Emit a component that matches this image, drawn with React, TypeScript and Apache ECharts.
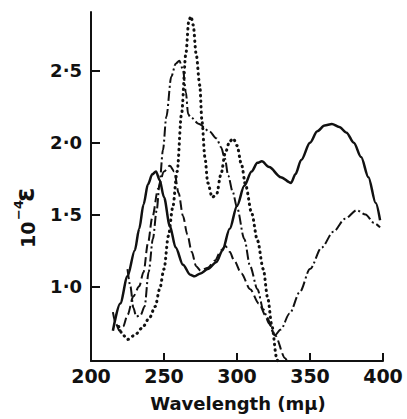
import React, { useEffect, useRef } from "react";
import * as echarts from "echarts";

// Wavelength (mμ) vs 10^-4 ε
const solidData: [number, number][] = [
  [215, 0.69], [220, 0.88], [225, 1.07], [230, 1.25], [233, 1.40], [236, 1.57], [239, 1.71], [242, 1.78], [244.5, 1.8],
  [247, 1.74], [250, 1.62], [254, 1.42], [258, 1.27], [263, 1.15], [268, 1.08], [271, 1.07], [275, 1.09],
  [280, 1.12], [286, 1.17], [290, 1.25], [295, 1.4], [300, 1.56], [305, 1.7], [310, 1.8], [314, 1.86],
  [317, 1.87], [322, 1.83], [330, 1.76], [337, 1.72], [340, 1.78], [344, 1.88], [350, 2.0], [355, 2.08],
  [360, 2.12], [365, 2.13], [370, 2.11], [375, 2.07], [380, 2.0], [385, 1.9], [390, 1.76], [395, 1.58],
  [398, 1.46],
];

const dashedData: [number, number][] = [
  [215, 0.82], [217, 0.74], [219.5, 0.69], [222, 0.72], [225, 0.8], [229, 0.93], [233, 1.0], [236, 1.1],
  [239, 1.3], [242, 1.48], [246, 1.68], [250, 1.8], [254, 1.84], [257, 1.8], [260, 1.65], [263, 1.49],
  [266, 1.36], [269, 1.24], [272, 1.14], [275, 1.11], [280, 1.13], [285, 1.18], [289, 1.25], [292, 1.28],
  [295, 1.24], [298, 1.18], [303, 1.09], [309, 0.98], [315, 0.88], [320, 0.79], [326, 0.66], [333, 0.5],
  [335, 0.46],
];

const dashDotData: [number, number][] = [
  [225, 1.12], [227, 1.0], [229, 0.85], [231, 0.79], [234, 0.8], [236.7, 0.86], [239.5, 1.1], [242.4, 1.33],
  [245, 1.53], [247, 1.72], [249.3, 1.95], [251.6, 2.18], [255, 2.46], [258, 2.55], [260.5, 2.57],
  [263, 2.51], [265, 2.35], [266.5, 2.2], [268, 2.18], [274, 2.13], [281, 2.08], [286, 2.03], [289, 1.97],
  [291.7, 1.89], [294, 1.77], [297, 1.66], [300, 1.55], [305, 1.33], [309, 1.14], [314, 0.98], [318, 0.84],
  [322, 0.74], [326, 0.66], [330, 0.7], [336, 0.81], [343, 0.96], [350, 1.12], [358, 1.27], [366, 1.38],
  [374, 1.47], [382, 1.53], [388, 1.5], [394, 1.44], [398, 1.41],
];

const dottedData: [number, number][] = [
  [219, 0.72], [222, 0.66], [225, 0.63], [230, 0.66], [235, 0.71], [240, 0.78], [244, 0.86], [247, 0.98],
  [250, 1.12], [253, 1.35], [256, 1.55], [259, 1.8], [262, 2.2], [265, 2.62], [267, 2.85], [268.5, 2.88],
  [270, 2.82], [272, 2.62], [274.5, 2.4], [276, 2.15], [278, 1.9], [280, 1.72], [283, 1.62], [286, 1.64],
  [289, 1.78], [292, 1.93], [295, 2.01], [297.5, 2.03], [300, 1.98], [303, 1.85], [306, 1.7], [310, 1.51],
  [314, 1.32], [318, 1.12], [321, 0.92], [324, 0.72], [327, 0.51], [328.5, 0.44],
];

const yTickValues = [1.0, 1.5, 2.0, 2.5];
const xTickValues = [200, 250, 300, 350, 400];
const xTitle = "Wavelength (mμ)";

const FONT = "DejaVu Sans";

export default function App() {
  const ref = useRef<HTMLDivElement>(null);
  useEffect(() => {
    if (!ref.current) return;
    const chart = echarts.init(ref.current, null, { renderer: "svg" });
    const baseSeries = {
      type: "line" as const,
      showSymbol: false,
      smooth: 0.3,
      smoothMonotone: "x" as const,
      clip: true,
      silent: true,
    };
    chart.setOption({
      animation: false,
      backgroundColor: "#ffffff",
      grid: { left: 91, right: 24, top: 12, bottom: 58, containLabel: false },
      xAxis: {
        type: "value",
        min: xTickValues[0],
        max: xTickValues[xTickValues.length - 1],
        interval: 50,
        splitLine: { show: false },
        axisLine: { show: true, lineStyle: { color: "#111", width: 2 } },
        axisTick: { show: true, inside: true, length: 8, lineStyle: { color: "#111", width: 2 } },
        axisLabel: {
          color: "#111",
          fontFamily: FONT,
          fontSize: 19,
          fontWeight: "bold",
          margin: 5,
        },
      },
      yAxis: {
        type: "value",
        min: 0.48,
        max: 2.91,
        splitLine: { show: false },
        axisLine: { show: true, lineStyle: { color: "#111", width: 2 } },
        axisTick: {
          show: true,
          inside: true,
          length: 9,
          customValues: yTickValues,
          lineStyle: { color: "#111", width: 2 },
        },
        axisLabel: {
          color: "#111",
          fontFamily: FONT,
          fontSize: 18,
          fontWeight: "bold",
          margin: 9,
          customValues: yTickValues,
          formatter: (v: number) => v.toFixed(1).replace(".", "·"),
        },
      },
      graphic: [
        {
          type: "text",
          x: 238,
          y: 403,
          style: {
            text: xTitle,
            fill: "#111",
            fontFamily: FONT,
            fontSize: 18,
            fontWeight: "bold",
            textAlign: "center",
            textVerticalAlign: "middle",
          },
        },
        {
          type: "group",
          x: 28,
          y: 217,
          rotation: Math.PI / 2,
          children: [
            {
              type: "text",
              x: -31,
              y: 0,
              style: {
                text: "10",
                fill: "#111",
                fontFamily: FONT,
                fontSize: 19,
                fontWeight: "bold",
                textAlign: "left",
                textVerticalAlign: "middle",
              },
            },
            {
              type: "text",
              x: -3,
              y: -10,
              style: {
                text: "−4",
                fill: "#111",
                fontFamily: FONT,
                fontSize: 13,
                fontWeight: "bold",
                textAlign: "left",
                textVerticalAlign: "middle",
              },
            },
            {
              type: "text",
              x: 15,
              y: -3,
              style: {
                text: "ε",
                fill: "#111",
                fontFamily: FONT,
                fontSize: 26,
                fontWeight: "bold",
                textAlign: "left",
                textVerticalAlign: "middle",
              },
            },
          ],
        },
      ],
      series: [
        {
          ...baseSeries,
          name: "solid",
          data: solidData,
          lineStyle: { color: "#111", width: 2.5, type: "solid" },
        },
        {
          ...baseSeries,
          name: "dashed",
          data: dashedData,
          lineStyle: { color: "#111", width: 2, type: [9, 4] },
        },
        {
          ...baseSeries,
          name: "dashdot",
          data: dashDotData,
          lineStyle: { color: "#111", width: 2, type: [10, 3, 2, 3] },
        },
        {
          ...baseSeries,
          name: "dotted",
          data: dottedData,
          lineStyle: { color: "#111", width: 3, type: [0.5, 5], cap: "round" },
        },
      ],
    });
    return () => chart.dispose();
  }, []);
  return (
    <div
      ref={ref}
      style={{ position: "fixed", left: 0, top: 0, width: 407, height: 419, background: "#fff" }}
    />
  );
}
